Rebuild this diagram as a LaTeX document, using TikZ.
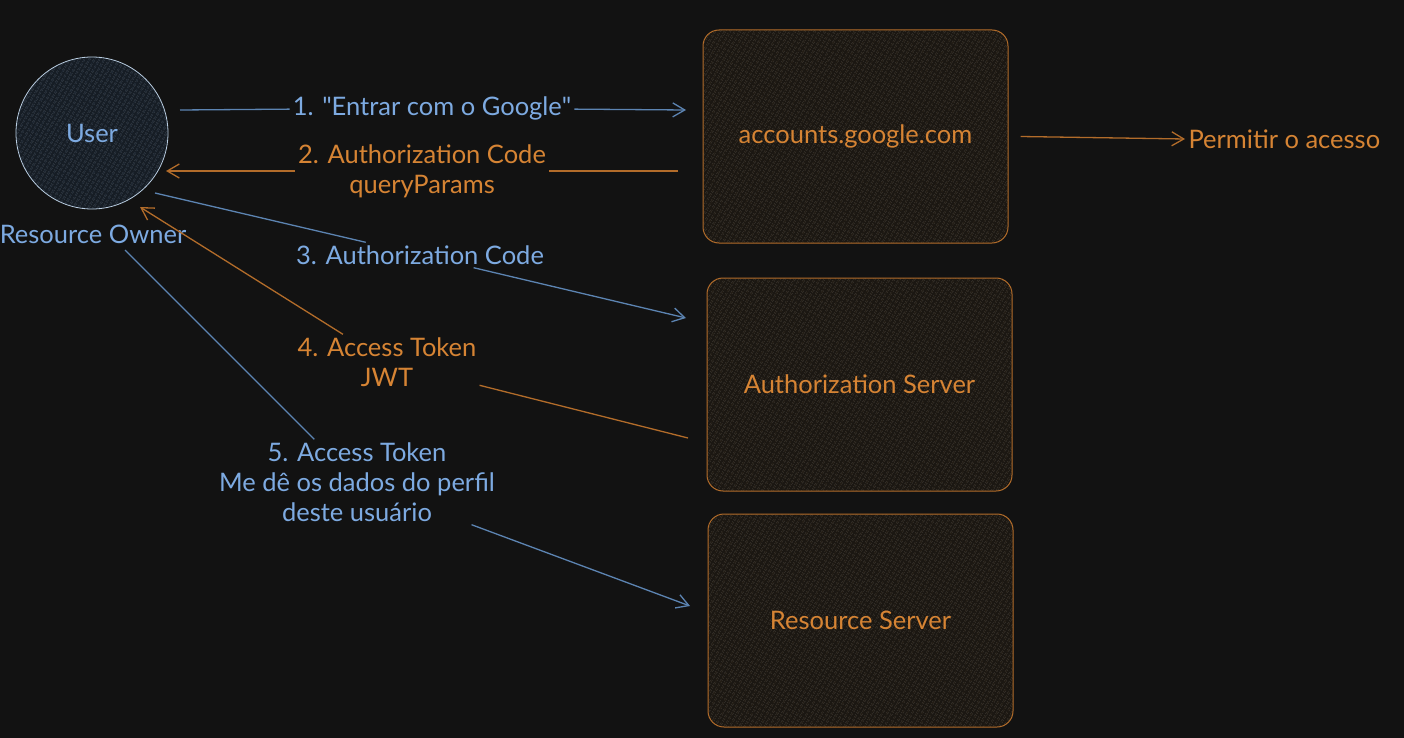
\documentclass[tikz,border=0pt]{standalone}
\usepackage{fontspec}
\setmainfont{Lato}
\usetikzlibrary{arrows.meta,patterns.meta}
\definecolor{bg}{RGB}{18,18,18}
\definecolor{usr}{RGB}{125,170,225}
\definecolor{usrln}{RGB}{92,132,178}
\definecolor{org}{RGB}{214,132,52}
\definecolor{orgln}{RGB}{178,108,42}
\definecolor{boxfill}{RGB}{27,23,18}
\definecolor{boxhatch}{RGB}{50,41,28}
\definecolor{userfill}{RGB}{22,29,37}
\definecolor{userhatch}{RGB}{46,60,76}
\definecolor{userln}{RGB}{185,205,225}

\tikzset{
  srv/.style={draw=orgln, line width=1pt, rounded corners=16pt,
    minimum width=305pt, minimum height=213pt,
    preaction={fill=boxfill},
    pattern={Lines[angle=60,distance=4pt,line width=0.8pt]}, pattern color=boxhatch,
    text=org},
  lbl/.style={inner sep=3pt, align=center},
  arr/.style={line width=1.3pt, -{Straight Barb[length=12pt,width=14pt,line width=1.3pt]}},
}

\begin{document}
\begin{tikzpicture}[x=1pt,y=-1pt, every node/.style={font=\fontsize{25.5}{30}\selectfont}]
\useasboundingbox (0,0) rectangle (1404,738);
\fill [bg] (0,0) rectangle (1404,738);

% resource owner
\node [circle, draw=userln, line width=0.8pt, minimum size=152pt,
  preaction={fill=userfill},
  pattern={Lines[angle=60,distance=4pt,line width=0.8pt]}, pattern color=userhatch,
  text=usr] (user) at (92,133) {User};
\node [text=usr, inner sep=0pt] (owner) at (93,234) {Resource Owner};

% servers
\node [srv] (google) at (855.5,136.5) {accounts.google.com};
\node [srv] (authsrv) at (859.5,384.5) {Authorization Server};
\node [srv] (ressrv) at (860.5,620.5) {Resource Server};
\node [text=org, anchor=west] (perm) at (1185,139) {Permitir o acesso};

% labels
\node [lbl, text=usr] (l1) at (432,108) {1. \textquotedbl Entrar com o Google\textquotedbl};
\node [lbl, text=org] (l2) at (422,171) {2. Authorization Code\\queryParams};
\node [lbl, text=usr] (l3) at (420,255) {3. Authorization Code};
\node [lbl, text=org] (l4) at (387,362) {4. Access Token\\JWT};
\node [lbl, text=usr] (l5) at (357,482) {5. Access Token\\Me dê os dados do perfil\\deste usuário};

% end points
\coordinate (a1s) at (180,110);
\coordinate (a1e) at (686,110);
\coordinate (a2s) at (678,171);
\coordinate (a2e) at (166,171);
\coordinate (a3s) at (155,193);
\coordinate (a3e) at (686,318);
\coordinate (a4s) at (688,438);
\coordinate (a4e) at (140,207);
\coordinate (a5s) at (125,250);
\coordinate (a5e) at (690,606);

% arrows
\draw [arr, usrln] (a1s) -- (l1) -- (a1e);
\draw [arr, orgln] (a2s) -- (l2) -- (a2e);
\draw [arr, usrln] (a3s) -- (l3) -- (a3e);
\draw [arr, orgln] (a4s) -- (l4) -- (a4e);
\draw [arr, usrln] (a5s) -- (l5) -- (a5e);
\draw [arr, orgln] ([xshift=12pt]google.east) -- (perm.west);
\end{tikzpicture}
\end{document}
